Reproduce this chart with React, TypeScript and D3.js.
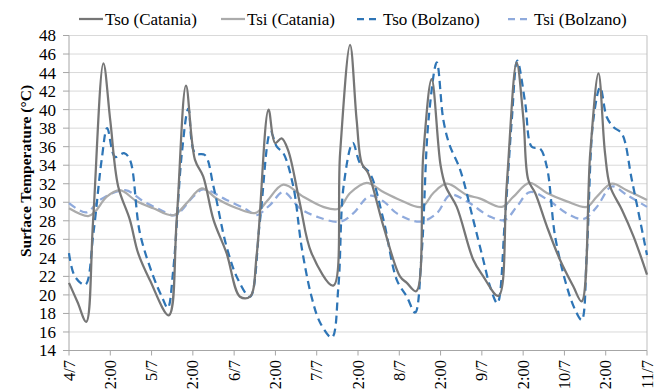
import React from "react";
import * as d3 from "d3";

const xTickLabels = ["4/7","12:00","5/7","12:00","6/7","12:00","7/7","12:00","8/7","12:00","9/7","12:00","10/7","12:00","11/7"];
const yTicks = [14,16,18,20,22,24,26,28,30,32,34,36,38,40,42,44,46,48];

const tsoCataniaHours = [0,2.5,5,7,10,12,14.3,17.7,20.1,23.5,29,31.3,34,36.6,39,42,45.8,49.7,52.6,54.6,58,59.9,61.8,63.7,67.1,70.5,76.8,78.8,81.7,83.6,85.1,87,91.4,96.2,98.2,100.9,103,105.4,108,109.5,112.7,117.5,120.4,124.8,127.2,130.1,132.1,133.5,135.5,138.9,142.7,146.6,149,151.5,153.9,155.8,157.3,160.7,164.1,168];
const tsoCataniaValues = [21.3,19.2,17.1,28,45,38.8,31.7,28.1,24.5,21.6,17.8,28.1,42.6,34.6,32.8,28.1,24.5,19.8,19.8,24.5,40,36.4,36.9,35.6,29.9,24.5,21,35.3,47,38.9,34.2,33.1,27.4,22,21.3,20.4,35.3,43.3,34,31.7,29.5,23.8,22,19.9,31.7,45.1,38.9,32.4,31,27.4,23.8,20.9,19.3,35.3,43.9,35.3,31.7,29.2,26.3,22.2];

const tsiCataniaHours = [0,5.6,7.6,11,14.8,19.7,24.5,30.3,34.2,38.6,42.9,48.8,54.3,57.5,62.3,68.1,73.9,78.3,81.7,86.5,91.4,96.2,102.5,105.9,109.8,115.6,119.5,125.8,129.2,133.8,138.9,144.7,150.5,153.4,157.8,162.1,168];
const tsiCataniaValues = [29.35,28.5,29,30.6,31.3,30.1,29.35,28.6,29.9,31.5,30.4,29.35,28.85,30.1,31.9,30.6,29.5,29.3,31,32.1,31.1,30.25,29.5,31,32,30.8,30.4,29.5,30.6,32.1,31,30.1,29.5,30.6,32,31.3,30.25];

const tsoBolzanoHours = [0,1.7,4.7,7.1,9.5,11.1,13.4,16,17.7,20.6,24.5,27,28.7,30.3,32.8,34.7,36.6,39.5,42,45.8,49.2,52.6,55.5,58.6,60.4,62.3,65.2,67.6,70.5,73,76.4,78.3,79.8,82.5,84.6,87.5,91.4,95.3,98.2,100.6,102.5,104.5,106.9,108.8,110.6,113.7,117.5,120.4,122.4,124.5,126.7,128.7,130.3,132.6,134.5,136.9,138.9,141.3,144.7,147.1,149,150.5,152.4,154.4,156.3,158.3,160.7,163.6,168];
const tsoBolzanoValues = [24.5,22,21.1,26.7,34.6,38,34.9,35.3,34.6,26.7,22,19.8,18.6,22.7,35.3,40.1,35.3,35.1,31.7,25.2,21.6,19.8,28,37.6,36,35.3,31.7,25.2,19.8,17,15.4,20.9,31.7,36.4,34.2,33.1,28.1,21.6,19.8,18.1,24.5,38.9,45.1,38.9,36.2,33.5,28.1,23.8,20.9,19.1,28.1,38.9,45.3,40.7,36,35.8,33.8,26.3,20.9,18.4,17.3,24.5,38.9,42.4,39.2,38.1,37.4,32.4,24.3];

const tsiBolzanoHours = [0,5.1,9,16.3,21.6,26.5,30.8,36.1,39,45.8,51.7,54.4,58.4,62.3,67.1,72,78.8,82.6,87.5,91.4,95.3,102,106.9,110.8,115.6,122.4,126.7,130.1,134,139.8,144.7,149.6,153.4,157.8,162.1,168];
const tsiBolzanoValues = [29.9,28.9,30.25,31.3,30.1,29.2,28.6,30.6,31.4,30.25,29.2,28.6,29.7,31.1,29.35,28.45,27.9,28.8,30.7,30.1,28.8,27.9,28.8,30.8,30.1,28.45,28.1,29.5,31.1,30.1,28.8,28.2,29.5,31.7,30.8,29.5];

const seriesNames = ["Tso (Catania)", "Tsi (Catania)", "Tso (Bolzano)", "Tsi (Bolzano)"];

const W = 665, H = 389;
const L = 69, R = 647, T = 35.5, B = 350.5;
const FONT = "Liberation Serif, Times New Roman, DejaVu Serif, serif";

export default function App() {
  const x = d3.scaleLinear().domain([0, 168]).range([L, R]);
  const y = d3.scaleLinear().domain([14, 48]).range([B, T]);
  const line = d3.line<[number, number]>().x(d => x(d[0])).y(d => y(d[1])).curve(d3.curveCatmullRom.alpha(0.5));
  const zip = (h: number[], v: number[]) => h.map((hh, i) => [hh, v[i]] as [number, number]);

  const series = [
    { name: seriesNames[0], data: zip(tsoCataniaHours, tsoCataniaValues), color: "#767676", dash: "" },
    { name: seriesNames[1], data: zip(tsiCataniaHours, tsiCataniaValues), color: "#ABABAB", dash: "" },
    { name: seriesNames[2], data: zip(tsoBolzanoHours, tsoBolzanoValues), color: "#2E75B6", dash: "8,5" },
    { name: seriesNames[3], data: zip(tsiBolzanoHours, tsiBolzanoValues), color: "#8FAADC", dash: "8,5" },
  ];
  const drawOrder = [3, 1, 2, 0];
  const legendX = [79, 221, 357, 508];
  const ts = { fontFamily: FONT };

  return (
    <svg width={W} height={H} style={{ position: "absolute", left: 0, top: 0, background: "#fff", fontFamily: FONT }}>
      <rect x={0} y={0} width={W} height={H} fill="#fff" />
      {yTicks.map(t => (
        <line key={"g" + t} x1={L} x2={R} y1={y(t)} y2={y(t)} stroke="#D9D9D9" strokeWidth={1} />
      ))}
      <line x1={R} x2={R} y1={T} y2={B} stroke="#BFBFBF" strokeWidth={1} />
      <line x1={L} x2={L} y1={T} y2={B} stroke="#A6A6A6" strokeWidth={1} />
      <line x1={L} x2={R} y1={B} y2={B} stroke="#A6A6A6" strokeWidth={1} />
      {yTicks.map(t => (
        <g key={"y" + t}>
          <line x1={L - 6} x2={L} y1={y(t)} y2={y(t)} stroke="#A6A6A6" />
          <text x={56} y={y(t)} dy="0.35em" textAnchor="end" style={ts} fontSize={17} fill="#000">{t}</text>
        </g>
      ))}
      {xTickLabels.map((lab, i) => {
        const xx = x(i * 12);
        return (
          <g key={"x" + i}>
            <line x1={xx} x2={xx} y1={B} y2={B + 5} stroke="#A6A6A6" />
            <text transform={`translate(${xx + 5.5},360) rotate(-90)`} textAnchor="end" style={ts} fontSize={16.5} fill="#000">{lab}</text>
          </g>
        );
      })}
      <text transform={`translate(31,171) rotate(-90)`} textAnchor="middle" style={ts} fontSize={15.5} fontWeight="bold" fill="#000">Surface Temperature (°C)</text>
      {drawOrder.map(i => {
        const s = series[i];
        return <path key={s.name} d={line(s.data) || ""} fill="none" stroke={s.color} strokeWidth={2.25} strokeDasharray={s.dash} />;
      })}
      {series.map((s, i) => (
        <g key={"l" + i}>
          <line x1={legendX[i]} x2={legendX[i] + 24} y1={19} y2={19} stroke={s.color} strokeWidth={2.25} strokeDasharray={s.dash ? "7,5" : ""} />
          <text x={legendX[i] + 26} y={19} dy="0.35em" style={ts} fontSize={17} fill="#000">{s.name}</text>
        </g>
      ))}
    </svg>
  );
}
